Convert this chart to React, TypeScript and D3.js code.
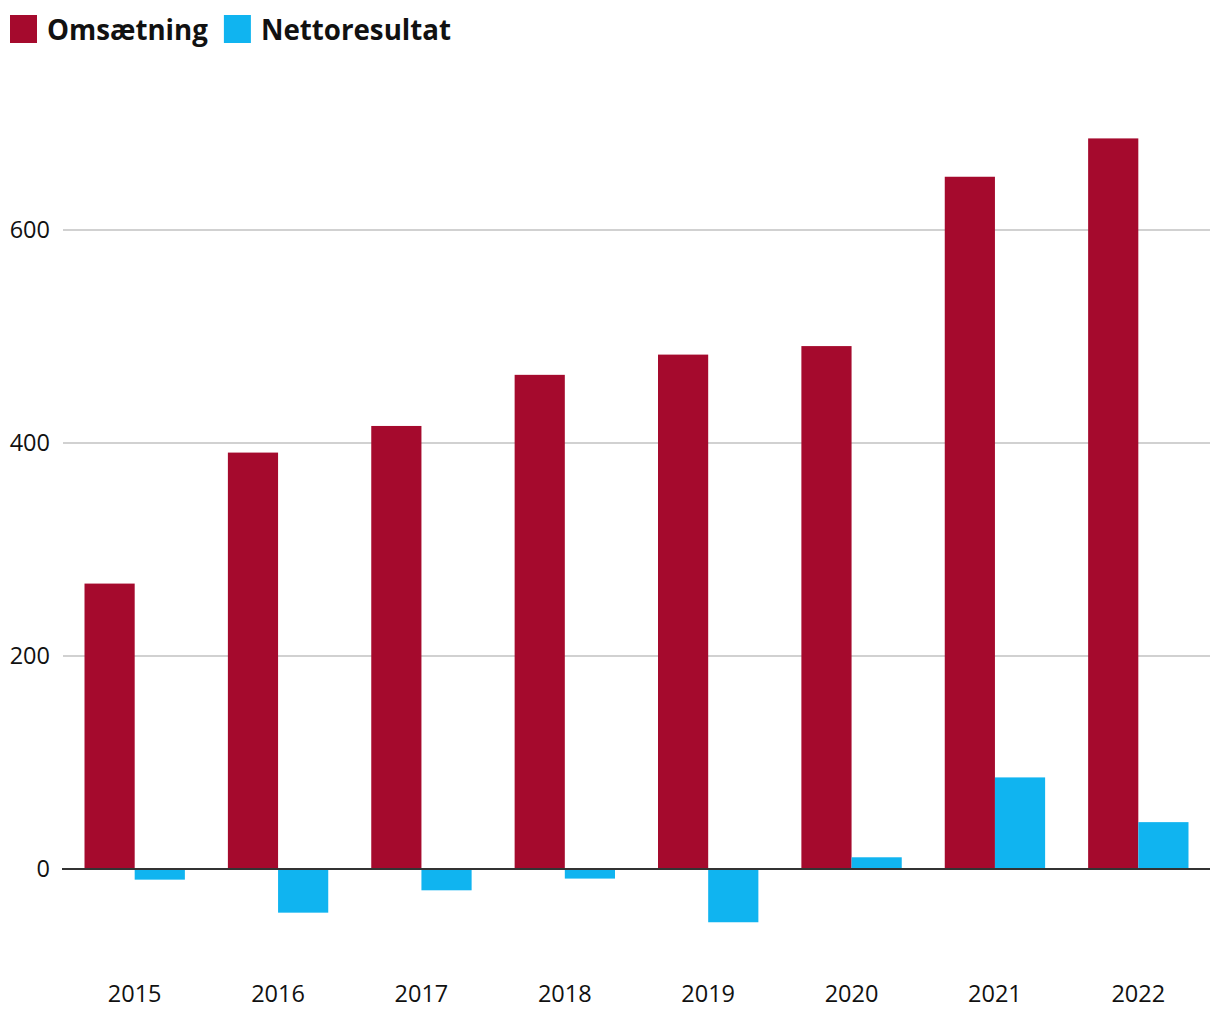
import { useEffect, useRef } from 'react'
import * as d3 from 'd3'

const years = ['2015', '2016', '2017', '2018', '2019', '2020', '2021', '2022']
const revenue = [268, 391, 416, 464, 483, 491, 650, 686]
const netResult = [-10, -41, -20, -9, -50, 11, 86, 44]
const yTicks = [0, 200, 400, 600]

const seriesNames = ['Omsætning', 'Nettoresultat']
const colors = ['#a50a2d', '#10b4f0']

const width = 1220
const height = 1020

const App = () => {
  const ref = useRef<SVGSVGElement | null>(null)

  useEffect(() => {
    if (!ref.current) return
    const svg = d3.select(ref.current)
    svg.selectAll('*').remove()

    const left = 63
    const right = 1210

    const x = d3.scaleBand<string>().domain(years).range([left, right]).paddingInner(0.3).paddingOuter(0.15)
    const sub = d3.scaleBand<number>().domain([0, 1]).range([0, x.bandwidth()])
    const y = d3.scaleLinear().domain([0, 600]).range([869, 230])

    const font = "'Open Sans', 'Noto Sans', sans-serif"

    // gridlines
    svg
      .append('g')
      .selectAll('line')
      .data(yTicks.filter((t) => t !== 0))
      .join('line')
      .attr('x1', left)
      .attr('x2', right)
      .attr('y1', (d) => y(d))
      .attr('y2', (d) => y(d))
      .attr('stroke', '#c2c2c2')
      .attr('stroke-width', 1.5)

    // y labels
    svg
      .append('g')
      .selectAll('text')
      .data(yTicks)
      .join('text')
      .attr('x', 50)
      .attr('y', (d) => y(d))
      .attr('dy', '0.35em')
      .attr('text-anchor', 'end')
      .attr('font-family', font)
      .attr('font-size', 23.5)
      .attr('fill', '#111')
      .text((d) => d)

    const series = [revenue, netResult]
    series.forEach((vals, si) => {
      svg
        .append('g')
        .selectAll('rect')
        .data(vals)
        .join('rect')
        .attr('x', (_, i) => (x(years[i]) ?? 0) + (sub(si) ?? 0))
        .attr('width', sub.bandwidth())
        .attr('y', (d) => y(Math.max(0, d)))
        .attr('height', (d) => Math.abs(y(d) - y(0)))
        .attr('fill', colors[si])
    })

    // zero line
    svg
      .append('line')
      .attr('x1', left - 1)
      .attr('x2', right)
      .attr('y1', y(0))
      .attr('y2', y(0))
      .attr('stroke', '#333')
      .attr('stroke-width', 2)

    // x labels
    svg
      .append('g')
      .selectAll('text')
      .data(years)
      .join('text')
      .attr('x', (d) => (x(d) ?? 0) + x.bandwidth() / 2)
      .attr('y', 1002)
      .attr('text-anchor', 'middle')
      .attr('font-family', font)
      .attr('font-size', 23.5)
      .attr('fill', '#111')
      .text((d) => d)

    // legend
    const legend = svg.append('g').attr('font-family', font)
    let lx = 10
    seriesNames.forEach((name, i) => {
      legend.append('rect').attr('x', lx).attr('y', 15).attr('width', 27).attr('height', 28).attr('fill', colors[i])
      const t = legend
        .append('text')
        .attr('x', lx + 37)
        .attr('y', 40)
        .attr('font-size', 27.7)
        .attr('font-weight', 700)
        .attr('fill', '#111')
        .text(name)
      const w = (t.node() as SVGTextElement).getComputedTextLength()
      lx += 37 + w + 16
    })
  }, [])

  return (
    <div style={{ position: 'absolute', top: 0, left: 0 }}>
      <svg ref={ref} width={width} height={height} style={{ display: 'block', background: '#fff' }} />
    </div>
  )
}

export default App
